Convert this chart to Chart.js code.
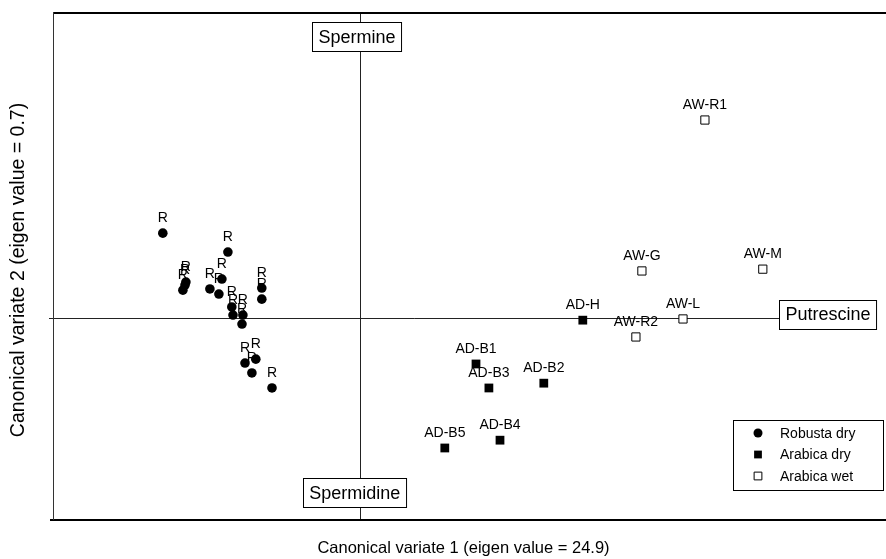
<!DOCTYPE html>
<html>
<head>
<meta charset="utf-8">
<script src="https://cdn.jsdelivr.net/npm/chart.js@4/dist/chart.umd.min.js"></script>
<style>
	body { margin: 0; background: #fff; }
</style>
</head>
<body>
<canvas id="cvaChart" width="886" height="559"></canvas>
<script>
// scores on canonical variate 1 / 2
const robustaX = [-6.57, -4.40, -4.60, -5.80, -5.83, -5.90, -5.00, -4.70, -3.27, -3.27, -4.27, -4.23, -3.90, -3.93, -3.83, -3.47, -3.60, -2.93];
const robustaY = [2.83, 2.20, 1.30, 1.20, 1.10, 0.93, 0.97, 0.80, 1.00, 0.63, 0.37, 0.10, 0.10, -0.20, -1.50, -1.37, -1.83, -2.33];

const arabicaDryLabels = ["AD-H", "AD-B1", "AD-B3", "AD-B2", "AD-B5", "AD-B4"];
const arabicaDryX = [7.43, 3.87, 4.30, 6.13, 2.83, 4.67];
const arabicaDryY = [-0.07, -1.53, -2.33, -2.17, -4.33, -4.07];

const arabicaWetLabels = ["AW-R1", "AW-G", "AW-M", "AW-L", "AW-R2"];
const arabicaWetX = [11.50, 9.40, 13.43, 10.77, 9.20];
const arabicaWetY = [6.60, 1.57, 1.63, -0.03, -0.63];

// polyamine vectors (label boxes)
const vectorNames = ["Spermine", "Spermidine", "Putrescine"];
const vectorX = [-0.10, -0.17, 15.60];
const vectorY = [9.38, -5.82, 0.13];

const seriesNames = ["Robusta dry", "Arabica dry", "Arabica wet"];

const FONT = '"Liberation Sans", Arial, sans-serif';

function toPoints(xs, ys) {
	return xs.map((x, i) => ({ x: x, y: ys[i] }));
}

// ширина рамки под подпись вектора
function boxWidth(ctx, name) {
	ctx.save();
	ctx.font = "18px " + FONT;
	const w = ctx.measureText(name).width + 12;
	ctx.restore();
	return w;
}

// рамка, оси, подписи, легенда
const decorPlugin = {
	id: "decor",
	beforeDatasetsDraw(chart) {
		const { ctx, chartArea: a, scales } = chart;
		const x0 = Math.round(scales.x.getPixelForValue(0)) + 0.5;
		const y0 = Math.round(scales.y.getPixelForValue(0)) + 0.5;
		const putX = scales.x.getPixelForValue(vectorX[2]) - boxWidth(ctx, vectorNames[2]) / 2;
		ctx.save();
		ctx.strokeStyle = "#222";
		ctx.lineWidth = 1;
		ctx.beginPath();
		ctx.moveTo(x0, a.top);
		ctx.lineTo(x0, a.bottom);
		ctx.moveTo(a.left - 4, y0);
		ctx.lineTo(putX, y0);
		ctx.stroke();

		// frame
		ctx.strokeStyle = "#000";
		ctx.lineWidth = 2;
		ctx.beginPath();
		ctx.moveTo(a.left, a.top + 1);
		ctx.lineTo(chart.width, a.top + 1);
		ctx.moveTo(a.left - 3, a.bottom);
		ctx.lineTo(chart.width, a.bottom);
		ctx.stroke();
		ctx.strokeStyle = "#333";
		ctx.lineWidth = 1;
		ctx.beginPath();
		ctx.moveTo(a.left + 0.5, a.top);
		ctx.lineTo(a.left + 0.5, a.bottom);
		ctx.stroke();
		ctx.restore();
	},
	afterDatasetsDraw(chart) {
		const { ctx, chartArea: a, scales } = chart;
		ctx.save();

		// point labels
		ctx.fillStyle = "#000";
		ctx.font = "14px " + FONT;
		ctx.textAlign = "center";
		ctx.textBaseline = "middle";
		chart.data.datasets.forEach((ds, i) => {
			const meta = chart.getDatasetMeta(i);
			meta.data.forEach((pt, j) => {
				const txt = ds.pointLabels ? ds.pointLabels[j] : "R";
				ctx.fillText(txt, pt.x, pt.y - 15);
			});
		});

		// vector boxes
		vectorNames.forEach((name, i) => {
			const cx = scales.x.getPixelForValue(vectorX[i]);
			const cy = scales.y.getPixelForValue(vectorY[i]);
			const w = boxWidth(ctx, name);
			const h = 29;
			const bx = Math.round(cx - w / 2) + 0.5;
			const by = Math.round(cy - h / 2) + 0.5;
			ctx.fillStyle = "#fff";
			ctx.fillRect(bx, by, w, h);
			ctx.strokeStyle = "#000";
			ctx.lineWidth = 1;
			ctx.strokeRect(bx, by, w, h);
			ctx.fillStyle = "#000";
			ctx.font = "18px " + FONT;
			ctx.fillText(name, cx, cy + 1);
		});

		// legend
		const lx = 733.5, ly = 420.5, lw = 150, lh = 70;
		ctx.fillStyle = "#fff";
		ctx.fillRect(lx, ly, lw, lh);
		ctx.strokeStyle = "#000";
		ctx.lineWidth = 1;
		ctx.strokeRect(lx, ly, lw, lh);
		ctx.font = "14px " + FONT;
		ctx.textAlign = "left";
		chart.data.datasets.forEach((ds, i) => {
			const yy = 433 + i * 21.5;
			ctx.fillStyle = ds.backgroundColor;
			ctx.strokeStyle = ds.borderColor;
			Chart.helpers.drawPoint(ctx, {
				pointStyle: ds.pointStyle,
				radius: ds.pointStyle === "circle" ? 4.5 : 5.5,
				rotation: 0,
				borderWidth: ds.borderWidth
			}, 758, yy);
			ctx.fillStyle = "#000";
			ctx.fillText(seriesNames[i], 780, yy + 1);
		});

		// axis titles
		ctx.fillStyle = "#000";
		ctx.textAlign = "center";
		ctx.font = "16.5px " + FONT;
		ctx.fillText("Canonical variate 1 (eigen value = 24.9)", (a.left + a.right) / 2 - 5, 548);
		ctx.translate(19, (a.top + a.bottom) / 2 + 4);
		ctx.rotate(-Math.PI / 2);
		ctx.font = "19.5px " + FONT;
		ctx.fillText("Canonical variate 2 (eigen value = 0.7)", 0, 0);
		ctx.restore();
	}
};

const ctx = document.getElementById("cvaChart");

const chart = new Chart(ctx, {
	type: "scatter",
	data: {
		datasets: [
			{
				label: seriesNames[0],
				data: toPoints(robustaX, robustaY),
				pointStyle: "circle",
				pointRadius: 4.8,
				backgroundColor: "#000",
				borderColor: "#000",
				borderWidth: 0
			},
			{
				label: seriesNames[1],
				data: toPoints(arabicaDryX, arabicaDryY),
				pointLabels: arabicaDryLabels,
				pointStyle: "rect",
				pointRadius: 6.2,
				backgroundColor: "#000",
				borderColor: "#000",
				borderWidth: 0
			},
			{
				label: seriesNames[2],
				data: toPoints(arabicaWetX, arabicaWetY),
				pointLabels: arabicaWetLabels,
				pointStyle: "rect",
				pointRadius: 5.8,
				backgroundColor: "#fff",
				borderColor: "#000",
				borderWidth: 1
			}
		]
	},
	options: {
		responsive: false,
		animation: false,
		layout: {
			autoPadding: false,
			padding: { left: 53, top: 12, right: 2, bottom: 39 }
		},
		scales: {
			x: { type: "linear", display: false, min: -10.23, max: 17.47 },
			y: { type: "linear", display: false, min: -6.73, max: 10.2 }
		},
		plugins: {
			legend: { display: false },
			tooltip: { enabled: false }
		}
	},
	plugins: [decorPlugin]
});
</script>
</body>
</html>
